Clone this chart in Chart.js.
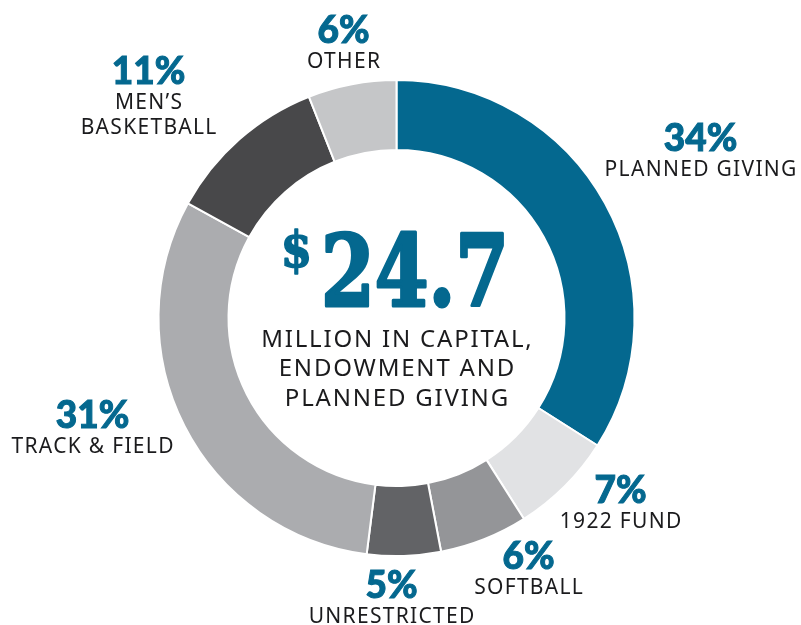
<!DOCTYPE html>
<html>
<head>
<meta charset="utf-8">
<script src="https://cdn.jsdelivr.net/npm/chart.js@4.4.1/dist/chart.umd.min.js"></script>
<style>
  html, body { margin: 0; padding: 0; background: #ffffff; }
  #wrap { width: 801px; height: 625px; }
</style>
</head>
<body>
<div id="wrap"><canvas id="givingChart" width="801" height="625"></canvas></div>
<script>
// Data
const categories = ['PLANNED GIVING', '1922 FUND', 'SOFTBALL', 'UNRESTRICTED', 'TRACK & FIELD', 'MEN\u2019S\nBASKETBALL', 'OTHER'];
const shares = [34, 7, 6, 5, 31, 11, 6];
const sliceColors = ['#04688f', '#e1e2e4', '#949598', '#626366', '#abacaf', '#48484a', '#c5c6c8'];
const totalAmount = '24.7';
const centerLines = ['MILLION IN CAPITAL,', 'ENDOWMENT AND', 'PLANNED GIVING'];

// where each label's percent sits, measured from the ring centre
const labelOffsets = [[304, -180], [224, 172], [132, 238], [-5, 267], [-304, 97], [-248, -247], [-53, -288]];

const BLUE = '#04688f';
const INK = '#1b1b1d';
const NAME_FONT = '400 21px "Noto Sans"';
const PCT_FONT = '900 37px Lato';

function spacedText(ctx, text, x, y, spacing) {
  ctx.letterSpacing = spacing + 'px';
  // letterSpacing adds trailing space, shift to keep it centred
  ctx.fillText(text, x + spacing / 2, y);
  ctx.letterSpacing = '0px';
}

const ringLabels = {
  id: 'ringLabels',
  afterDatasetsDraw(chart) {
    const ctx = chart.ctx;
    const arc = chart.getDatasetMeta(0).data[0];
    const cx = arc.x, cy = arc.y;
    ctx.save();
    ctx.textAlign = 'center';
    ctx.textBaseline = 'middle';

    categories.forEach((name, i) => {
      const [dx, dy] = labelOffsets[i];
      const px = cx + dx, py = cy + dy;
      ctx.fillStyle = BLUE;
      ctx.strokeStyle = BLUE;
      ctx.lineWidth = 1;
      ctx.font = PCT_FONT;
      ctx.fillText(shares[i] + '%', px, py + 1);
      ctx.strokeText(shares[i] + '%', px, py + 1);
      ctx.fillStyle = INK;
      ctx.font = NAME_FONT;
      name.split('\n').forEach((line, k) => {
        spacedText(ctx, line, px, py + 32.5 + k * 24.5, 1.3);
      });
    });

    // centre: big amount with small dollar sign
    ctx.fillStyle = BLUE;
    ctx.strokeStyle = BLUE;
    ctx.lineJoin = 'round';
    ctx.textBaseline = 'alphabetic';
    ctx.font = 'bold 100px "DejaVu Serif Condensed"';
    const w = ctx.measureText(totalAmount).width;
    const sx = Math.min(1, 188 / w);
    ctx.save();
    ctx.translate(cx + 18.5, cy - 12);
    ctx.scale(sx, 1);
    ctx.textAlign = 'center';
    ctx.lineWidth = 3;
    ctx.fillText(totalAmount, 0, 0);
    ctx.strokeText(totalAmount, 0, 0);
    ctx.restore();

    ctx.font = 'bold 50px "DejaVu Serif Condensed"';
    ctx.textAlign = 'center';
    ctx.textBaseline = 'top';
    ctx.lineWidth = 1.5;
    ctx.fillText('$', cx - 100, cy - 89);
    ctx.strokeText('$', cx - 100, cy - 89);

    ctx.fillStyle = INK;
    ctx.font = '400 24px "Noto Sans"';
    ctx.textBaseline = 'middle';
    centerLines.forEach((line, k) => {
      spacedText(ctx, line, cx, cy + 22 + k * 29.5, 1.8);
    });
    ctx.restore();
  }
};

const givingChart = new Chart(document.getElementById('givingChart').getContext('2d'), {
  type: 'doughnut',
  data: {
    labels: categories,
    datasets: [{
      data: shares,
      backgroundColor: sliceColors,
      borderColor: '#ffffff',
      borderWidth: 2,
      hoverOffset: 0
    }]
  },
  options: {
    responsive: false,
    animation: false,
    cutout: 168,
    layout: { padding: { top: 79, bottom: 68, left: 157.5, right: 165.5 } },
    plugins: {
      legend: { display: false },
      tooltip: { enabled: false }
    }
  },
  plugins: [ringLabels]
});
</script>
</body>
</html>
